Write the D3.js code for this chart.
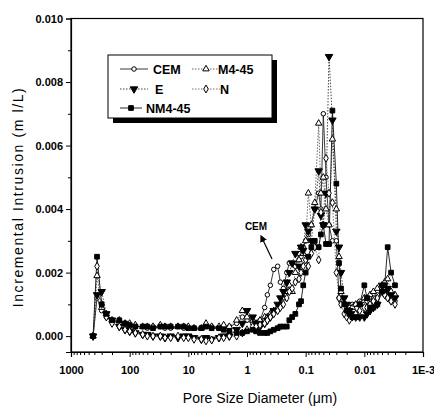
<!DOCTYPE html>
<html>
  <head>
    <meta charset="utf-8" />
    <title>Incremental Intrusion</title>
    <script src="https://d3js.org/d3.v7.min.js"></script>
    <style>
        body {margin: 0; background: #fff;}
        text {font-family: "Liberation Sans", Arial, sans-serif;}
        .tick text {font-size: 11px; font-weight: bold; fill: #000;}
    </style>
  </head>
  <body>

    <svg id="chart" width="434" height="408"></svg>

    <script>

        // pore diameters (um), shared by all series
        var diam = [420, 360, 300, 250, 200, 150, 120, 100, 80, 60, 50, 40, 30, 25, 20, 15, 12, 10,
                    8, 6, 5, 4, 3, 2.5, 2, 1.5, 1.2, 1.0, 0.8, 0.7, 0.6, 0.5, 0.45, 0.4, 0.35, 0.3,
                    0.27, 0.24, 0.21, 0.19, 0.17, 0.15, 0.13, 0.12, 0.11, 0.10, 0.09, 0.08, 0.07,
                    0.06, 0.055, 0.05, 0.045, 0.04, 0.035, 0.03, 0.027, 0.025, 0.022, 0.02, 0.018,
                    0.016, 0.014, 0.012, 0.01, 0.009, 0.008, 0.007, 0.006, 0.005, 0.0045, 0.004,
                    0.0035, 0.003];

        var cem = [0, 0.0012, 0.0008, 0.0006, 0.0005, 0.0004, 0.00035, 0.0003, 0.0003, 0.0003,
                   0.00025, 0.0003, 0.0003, 0.00025, 0.00025, 0.0003, 0.00025, 0.00025, 0.00025,
                   0.00025, 0.00035, 0.0003, 0.00025, 0.0003, 0.0003, 0.0004, 0.0006, 0.0005,
                   0.0004, 0.0003, 0.0005, 0.0009, 0.0013, 0.0016, 0.0021, 0.0022, 0.0017, 0.0015,
                   0.0020, 0.0023, 0.0023, 0.0022, 0.0026, 0.0025, 0.0028, 0.0030, 0.0032, 0.0035,
                   0.0040, 0.0045, 0.0040, 0.0070, 0.0050, 0.0035, 0.0030, 0.0030, 0.0012, 0.0011,
                   0.0010, 0.0009, 0.0009, 0.0010, 0.0010, 0.0011, 0.0010, 0.0011, 0.0011, 0.0012,
                   0.0013, 0.0014, 0.0013, 0.0012, 0.0011, 0.0011];

        var m445 = [0, 0.0019, 0.0009, 0.0007, 0.0005, 0.0005, 0.0004, 0.0004, 0.00035, 0.0003,
                    0.0003, 0.0003, 0.00035, 0.0003, 0.0003, 0.0003, 0.0003, 0.0003, 0.00025,
                    0.00025, 0.0004, 0.0003, 0.0003, 0.00035, 0.0003, 0.0005, 0.0008, 0.0006,
                    0.0005, 0.0004, 0.0005, 0.0006, 0.0006, 0.0007, 0.0008, 0.0009, 0.0010, 0.0012,
                    0.0014, 0.0016, 0.0014, 0.0020, 0.0024, 0.0028, 0.0026, 0.0030, 0.0045, 0.0035,
                    0.0042, 0.0067, 0.0045, 0.0050, 0.0040, 0.0035, 0.0062, 0.0040, 0.0025, 0.0014,
                    0.0010, 0.0008, 0.0008, 0.0009, 0.0010, 0.0010, 0.0012, 0.0012, 0.0013, 0.0014,
                    0.0015, 0.0016, 0.0017, 0.0018, 0.0014, 0.0013];

        var e = [0, 0.0013, 0.0014, 0.0007, 0.0005, 0.0003, 0.0002, 0.00015, 0.0001, 0.00005,
                 0.00005, 0, 0, -0.00005, 0, -0.00005, 0, 0, -0.00005, -0.0001, -0.00005, -0.0001,
                 -0.00005, 0, 0, 0.0002, 0.0004, 0.0008, 0.0006, 0.0004, 0.0003, 0.0004, 0.0005,
                 0.0006, 0.0008, 0.0010, 0.0012, 0.0014, 0.0017, 0.0020, 0.0023, 0.0026, 0.0022,
                 0.0028, 0.0027, 0.0035, 0.0033, 0.0030, 0.0040, 0.0052, 0.0038, 0.0035, 0.0045,
                 0.0088, 0.0068, 0.0033, 0.0028, 0.0020, 0.0012, 0.0010, 0.0008, 0.0007, 0.0006,
                 0.0006, 0.0006, 0.0007, 0.0008, 0.0009, 0.0010, 0.0016, 0.0014, 0.0015, 0.0013,
                 0.0012];

        var n = [0, 0.0022, 0.0010, 0.0006, 0.0004, 0.0003, 0.0002, 0.00015, 0.0001, 0.00005,
                 0, 0, 0, -0.00005, -0.00005, 0, -0.00005, -0.00005, -0.0001, -0.0001, -0.00015,
                 -0.00012, -0.00005, -0.00005, 0, 0, 0.0001, 0.0002, 0.0003, 0.0003, 0.00035,
                 0.0004, 0.0005, 0.0006, 0.0007, 0.0008, 0.0009, 0.0010, 0.0012, 0.0014, 0.0015,
                 0.0017, 0.0018, 0.0020, 0.0022, 0.0024, 0.0022, 0.0026, 0.0028, 0.0024, 0.0039,
                 0.0035, 0.0056, 0.0045, 0.0042, 0.0020, 0.0012, 0.0010, 0.0007, 0.0006, 0.0005,
                 0.0006, 0.0007, 0.0008, 0.0009, 0.0009, 0.0010, 0.0011, 0.0012, 0.0014, 0.0013,
                 0.0012, 0.0011, 0.0010];

        var nm445 = [0, 0.0025, 0.0010, 0.0007, 0.0005, 0.0005, 0.0004, 0.00035, 0.0003, 0.0003,
                     0.0003, 0.00025, 0.0003, 0.0003, 0.0003, 0.0003, 0.0003, 0.00025, 0.00025,
                     0.00025, 0.0003, 0.00025, 0.00025, 0.0002, 0.00015, 0.0001, 0.0001, 0.00015,
                     0.0002, 0.00015, 0.0001, 0.0001, 0.0001, 0.00015, 0.0002, 0.00025, 0.0003,
                     0.0003, 0.0003, 0.0005, 0.0006, 0.0007, 0.0010, 0.0011, 0.0016, 0.0020, 0.0025,
                     0.0028, 0.0030, 0.0028, 0.0032, 0.0035, 0.0029, 0.0029, 0.0071, 0.0048, 0.0023,
                     0.0015, 0.0010, 0.0008, 0.0007, 0.0006, 0.0006, 0.0010, 0.0016, 0.0012, 0.0009,
                     0.0009, 0.0010, 0.0014, 0.0016, 0.0028, 0.0020, 0.0016];

        var seriesNames = ["CEM", "M4-45", "E", "N", "NM4-45"];
        var seriesValues = [cem, m445, e, n, nm445];

        var xTicks = [1000, 100, 10, 1, 0.1, 0.01, 0.001];
        var xTickLabels = ["1000", "100", "10", "1", "0.1", "0.01", "1E-3"];
        var yTicks = [0, 0.002, 0.004, 0.006, 0.008, 0.010];

        // marker look per series
        var styles = [
            {sym: d3.symbolCircle, size: 16, rot: 0, fill: "#fff", dash: "none", line: "#222"},
            {sym: d3.symbolTriangle, size: 18, rot: 0, fill: "#fff", dash: "1.5,1.5", line: "#555"},
            {sym: d3.symbolTriangle, size: 24, rot: 180, fill: "#000", dash: "1.5,1.5", line: "#333"},
            {sym: d3.symbolDiamond, size: 18, rot: 0, fill: "#fff", dash: "1.5,1.5", line: "#666"},
            {sym: d3.symbolSquare, size: 22, rot: 0, fill: "#000", dash: "none", line: "#111"}
        ];

        var svg = d3.select("#chart");

        var x = d3.scaleLog().domain([1000, 0.001]).range([71, 423]);
        var y = d3.scaleLinear().domain([-0.0005, 0.010]).range([352, 18.5]);

        // frame
        svg.append("rect")
            .attr("x", 71).attr("y", 18.5)
            .attr("width", 352).attr("height", 333.5)
            .attr("fill", "none").attr("stroke", "#000").attr("stroke-width", 1.2);

        // y axis
        var yAxis = svg.append("g").attr("transform", "translate(71,0)")
            .call(d3.axisLeft(y).tickValues(yTicks).tickFormat(d3.format(".3f")).tickSize(5).tickPadding(3));
        yAxis.select(".domain").attr("stroke-width", 1.2);

        svg.append("g").attr("transform", "translate(71,0)")
            .call(d3.axisLeft(y).tickValues([0.001, 0.003, 0.005, 0.007, 0.009]).tickFormat("").tickSize(3))
            .select(".domain").remove();

        // x axis
        var xAxis = svg.append("g").attr("transform", "translate(0,352)")
            .call(d3.axisBottom(x).tickValues(xTicks)
                .tickFormat(function(d, i){ return xTickLabels[i]; })
                .tickSize(5).tickPadding(9));
        xAxis.select(".domain").attr("stroke-width", 1.2);

        var minor = [];
        for (var k = -3; k < 3; k++) {
            for (var m = 2; m < 10; m++) {
                minor.push(m * Math.pow(10, k));
            }
        }
        svg.append("g").attr("transform", "translate(0,352)")
            .call(d3.axisBottom(x).tickValues(minor).tickFormat("").tickSize(3))
            .select(".domain").remove();

        // axis titles
        svg.append("text")
            .attr("x", 260).attr("y", 403)
            .attr("text-anchor", "middle")
            .attr("font-size", "14px")
            .text("Pore Size Diameter (\u03bcm)");

        svg.append("text")
            .attr("transform", "translate(23,197) rotate(-90)")
            .attr("text-anchor", "middle")
            .attr("font-size", "14px")
            .attr("letter-spacing", "1.6px")
            .text("Incremental Intrusion (m l/L)");

        // lines
        var line = d3.line()
            .x(function(d){ return x(d[0]); })
            .y(function(d){ return y(d[1]); });

        seriesValues.forEach(function(vals, s) {
            var pts = diam.map(function(d, i){ return [d, vals[i]]; });
            svg.append("path")
                .datum(pts)
                .attr("d", line)
                .attr("fill", "none")
                .attr("stroke", styles[s].line)
                .attr("stroke-width", 0.9)
                .attr("stroke-dasharray", styles[s].dash);
        });

        // markers
        seriesValues.forEach(function(vals, s) {
            var st = styles[s];
            var pts = diam.map(function(d, i){ return [d, vals[i]]; });
            svg.append("g").selectAll("path")
                .data(pts)
                .enter().append("path")
                .attr("d", d3.symbol().type(st.sym).size(st.size))
                .attr("transform", function(d){
                    return "translate(" + x(d[0]) + "," + y(d[1]) + ") rotate(" + st.rot + ")";
                })
                .attr("fill", st.fill)
                .attr("stroke", "#000")
                .attr("stroke-width", 1);
        });

        // legend
        var lg = svg.append("g");
        lg.append("rect").attr("x", 113).attr("y", 60).attr("width", 164).attr("height", 63).attr("fill", "#000");
        lg.append("rect").attr("x", 108).attr("y", 55).attr("width", 164).attr("height", 63)
            .attr("fill", "#fff").attr("stroke", "#000").attr("stroke-width", 1);

        var legendPos = [
            {lx: 120, ly: 69, tx: 153},
            {lx: 192, ly: 69, tx: 218},
            {lx: 120, ly: 89, tx: 155},
            {lx: 192, ly: 89, tx: 220},
            {lx: 120, ly: 108, tx: 146}
        ];

        seriesNames.forEach(function(name, s) {
            var p = legendPos[s], st = styles[s];
            var len = (s == 4) ? 22 : 28;
            lg.append("line")
                .attr("x1", p.lx).attr("x2", p.lx + len)
                .attr("y1", p.ly).attr("y2", p.ly)
                .attr("stroke", st.line).attr("stroke-width", 0.9)
                .attr("stroke-dasharray", st.dash);
            lg.append("path")
                .attr("d", d3.symbol().type(st.sym).size(st.size))
                .attr("transform", "translate(" + (p.lx + len / 2) + "," + p.ly + ") rotate(" + st.rot + ")")
                .attr("fill", st.fill).attr("stroke", "#000");
            lg.append("text")
                .attr("x", p.tx).attr("y", p.ly + 4.5)
                .attr("font-size", "12.5px").attr("font-weight", "bold")
                .text(name);
        });

        // annotation
        svg.append("defs").append("marker")
            .attr("id", "arrow").attr("viewBox", "0 0 10 10")
            .attr("refX", 5).attr("refY", 5)
            .attr("markerWidth", 6).attr("markerHeight", 6)
            .attr("orient", "auto-start-reverse")
            .append("path").attr("d", "M0,0 L10,5 L0,10 z").attr("fill", "#000");

        svg.append("line")
            .attr("x1", 272).attr("y1", 259)
            .attr("x2", 262).attr("y2", 238)
            .attr("stroke", "#000").attr("stroke-width", 1.2)
            .attr("marker-end", "url(#arrow)");

        svg.append("text")
            .attr("x", 256).attr("y", 230)
            .attr("text-anchor", "middle")
            .attr("font-size", "10px").attr("font-weight", "bold")
            .text("CEM");

    </script>

  </body>
</html>
